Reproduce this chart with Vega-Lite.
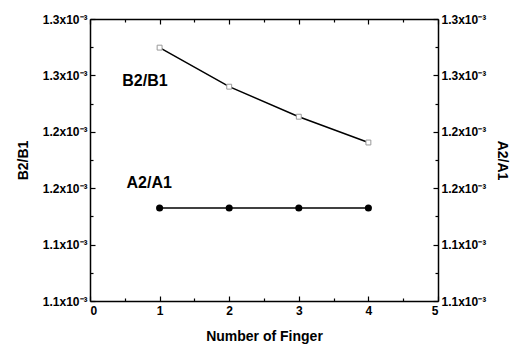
{
  "$schema": "https://vega.github.io/schema/vega-lite/v6.json",
  "autosize": {"type": "none"},
  "width": 348,
  "height": 282,
  "padding": {"left": 90, "top": 19, "right": 73, "bottom": 47},
  "background": "white",
  "config": {
    "view": {"stroke": null},
    "font": "Liberation Sans",
    "axis": {
      "grid": false,
      "domainColor": "black",
      "domainWidth": 1.5,
      "tickColor": "black",
      "tickWidth": 1.2,
      "labelColor": "black",
      "labelFont": "Liberation Sans",
      "labelFontWeight": "bold",
      "labelFontSize": 12,
      "titleFont": "Liberation Sans",
      "titleFontWeight": "bold",
      "titleFontSize": 14,
      "titleColor": "black"
    }
  },
  "datasets": {
    "b": [
      {"finger": 1, "ratio": 0.0012797},
      {"finger": 2, "ratio": 0.001252},
      {"finger": 3, "ratio": 0.0012307},
      {"finger": 4, "ratio": 0.0012124}
    ],
    "a": [
      {"finger": 1, "ratio": 0.001166},
      {"finger": 2, "ratio": 0.001166},
      {"finger": 3, "ratio": 0.001166},
      {"finger": 4, "ratio": 0.001166}
    ],
    "ann": [
      {"finger": 0.79, "ratio": 0.0012562, "label": "B2/B1"},
      {"finger": 0.85, "ratio": 0.0011834, "label": "A2/A1"}
    ]
  },
  "resolve": {"axis": {"x": "independent", "y": "independent"}},
  "layer": [
    {
      "data": {"name": "b"},
      "mark": {"type": "line", "color": "black", "strokeWidth": 1.5,
        "point": {"shape": "square", "filled": false, "stroke": "#999", "strokeWidth": 1, "size": 24, "fill": "white"}},
      "encoding": {
        "x": {"field": "finger", "type": "quantitative",
          "scale": {"domain": [0, 5], "nice": false, "zero": false},
          "axis": {"orient": "bottom", "title": "Number of Finger",
            "values": [0, 0.5, 1, 1.5, 2, 2.5, 3, 3.5, 4, 4.5, 5],
            "labelExpr": "datum.value % 1 === 0 ? format(datum.value, 'd') : ''",
            "tickSize": {"condition": {"test": "datum.value % 1 === 0", "value": -5}, "value": -3},
            "labelPadding": 9, "titlePadding": 13}},
        "y": {"field": "ratio", "type": "quantitative",
          "scale": {"domain": [0.0011, 0.0013], "nice": false, "zero": false},
          "axis": {"orient": "left", "title": "B2/B1",
            "values": [0.0011, 0.00112, 0.00114, 0.00116, 0.00118, 0.0012, 0.00122, 0.00124, 0.00126, 0.00128, 0.0013],
            "labelExpr": "round(datum.value * 100000) % 4 === 2 ? format(datum.value * 1000, '.1f') + 'x10⁻³' : ''",
            "tickSize": {"condition": {"test": "round(datum.value * 100000) % 4 === 2", "value": -5}, "value": -3},
            "labelPadding": 8, "titlePadding": 12}}
      }
    },
    {
      "data": {"name": "a"},
      "mark": {"type": "line", "color": "black", "strokeWidth": 1.5,
        "point": {"shape": "circle", "filled": true, "color": "black", "size": 50}},
      "encoding": {
        "x": {"field": "finger", "type": "quantitative",
          "scale": {"domain": [0, 5], "nice": false, "zero": false},
          "axis": {"orient": "top", "title": null, "labels": false,
            "values": [0, 0.5, 1, 1.5, 2, 2.5, 3, 3.5, 4, 4.5, 5],
            "tickSize": {"condition": {"test": "datum.value % 1 === 0", "value": -5}, "value": -3}}},
        "y": {"field": "ratio", "type": "quantitative",
          "scale": {"domain": [0.0011, 0.0013], "nice": false, "zero": false},
          "axis": {"orient": "right", "title": "A2/A1",
            "values": [0.0011, 0.00112, 0.00114, 0.00116, 0.00118, 0.0012, 0.00122, 0.00124, 0.00126, 0.00128, 0.0013],
            "labelExpr": "round(datum.value * 100000) % 4 === 2 ? format(datum.value * 1000, '.1f') + 'x10⁻³' : ''",
            "tickSize": {"condition": {"test": "round(datum.value * 100000) % 4 === 2", "value": -5}, "value": -3},
            "labelPadding": 8, "titlePadding": 9}}
      }
    },
    {
      "data": {"name": "ann"},
      "mark": {"type": "text", "font": "Liberation Sans", "fontWeight": "bold", "fontSize": 16, "color": "black"},
      "encoding": {
        "x": {"field": "finger", "type": "quantitative", "scale": {"domain": [0, 5], "nice": false, "zero": false}, "axis": null},
        "y": {"field": "ratio", "type": "quantitative", "scale": {"domain": [0.0011, 0.0013], "nice": false, "zero": false}, "axis": null},
        "text": {"field": "label"}
      }
    }
  ]
}
